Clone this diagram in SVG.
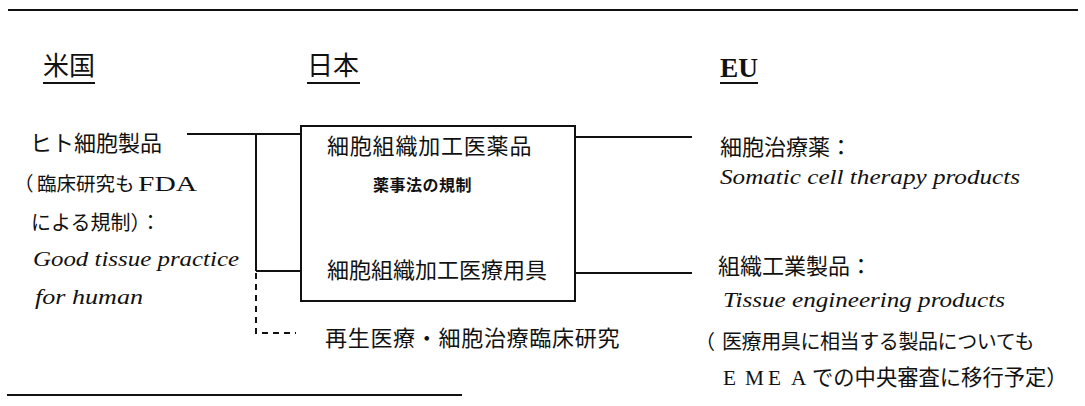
<svg xmlns="http://www.w3.org/2000/svg" width="1085" height="406" viewBox="0 0 1085 406">
<style>
.jp{font-family:"Noto Sans CJK JP","Noto Sans",sans-serif;fill:#111}
.en{font-family:"Liberation Serif",serif;font-style:italic;fill:#111}
.sr{font-family:"Liberation Serif",serif;fill:#111}
.ln{stroke:#111;stroke-width:2;fill:none}
.dash{stroke:#111;stroke-width:2;fill:none;stroke-dasharray:6 5}
.box{stroke:#111;stroke-width:2;fill:#fff}
</style>
<rect width="1085" height="406" fill="#fff"/>
<g id="rules">
<line class="ln" x1="8" y1="10" x2="1078" y2="10"/>
<line class="ln" x1="7" y1="395" x2="462" y2="395"/>
</g>
<g id="header-us">
<text class="jp" x="43" y="75" font-size="26">米国</text>
<line class="ln" x1="43" y1="83" x2="95" y2="83"/>
</g>
<g id="header-jp">
<text class="jp" x="307" y="75" font-size="26">日本</text>
<line class="ln" x1="307" y1="83" x2="360" y2="83"/>
</g>
<g id="header-eu">
<text class="sr" x="720" y="77" font-size="28" font-weight="bold" textLength="38" lengthAdjust="spacingAndGlyphs">EU</text>
<line class="ln" x1="720" y1="83" x2="758" y2="83"/>
</g>
<g id="connectors">
<polyline class="ln" points="187,134 301,134"/>
<line class="ln" x1="256" y1="134" x2="256" y2="271"/>
<line class="ln" x1="256" y1="271" x2="301" y2="271"/>
<polyline class="dash" points="256,273 256,333 296,333"/>
<line class="ln" x1="575" y1="137" x2="692" y2="137"/>
<line class="ln" x1="575" y1="273" x2="692" y2="273"/>
</g>
<g id="node-us">
<text class="jp" x="30" y="151" font-size="22">ヒト細胞製品</text>
<text class="jp" y="191" font-size="19.5"><tspan x="14">（</tspan><tspan x="37">臨床研究も</tspan><tspan class="sr" x="138" font-size="21" textLength="59" lengthAdjust="spacingAndGlyphs">FDA</tspan></text>
<text class="jp" x="31" y="230" font-size="20">による規制）：</text>
<text class="en" x="33" y="266" font-size="22" textLength="206" lengthAdjust="spacingAndGlyphs">Good tissue practice</text>
<text class="en" x="35" y="304" font-size="22" textLength="108" lengthAdjust="spacingAndGlyphs">for human</text>
</g>
<g id="node-jp-box">
<rect class="box" x="301" y="126" width="274" height="175"/>
<text class="jp" x="327" y="154" font-size="22" letter-spacing="0.8">細胞組織加工医薬品</text>
<text class="jp" x="373" y="191" font-size="16" font-weight="bold" letter-spacing="0.5">薬事法の規制</text>
<text class="jp" x="327" y="278" font-size="22">細胞組織加工医療用具</text>
</g>
<g id="node-clinical">
<text class="jp" x="325" y="346" font-size="22" letter-spacing="0.7">再生医療・細胞治療臨床研究</text>
</g>
<g id="node-eu-somatic">
<text class="jp" x="720" y="155" font-size="22">細胞治療薬：</text>
<text class="en" x="720" y="184" font-size="22" textLength="300" lengthAdjust="spacingAndGlyphs">Somatic cell therapy products</text>
</g>
<g id="node-eu-tissue">
<text class="jp" x="718" y="274" font-size="22">組織工業製品：</text>
<text class="en" x="723" y="307" font-size="22" textLength="282" lengthAdjust="spacingAndGlyphs">Tissue engineering products</text>
<text class="jp" y="349" font-size="20" letter-spacing="-0.4"><tspan x="695">（</tspan><tspan x="722">医療用具に相当する製品についても</tspan></text>
<text class="jp" y="385" font-size="21.3"><tspan class="sr" x="723">E</tspan><tspan class="sr" x="745">M</tspan><tspan class="sr" x="768">E</tspan><tspan class="sr" x="791">A</tspan><tspan x="812">での中央審査に移行予定）</tspan></text>
</g>
</svg>
